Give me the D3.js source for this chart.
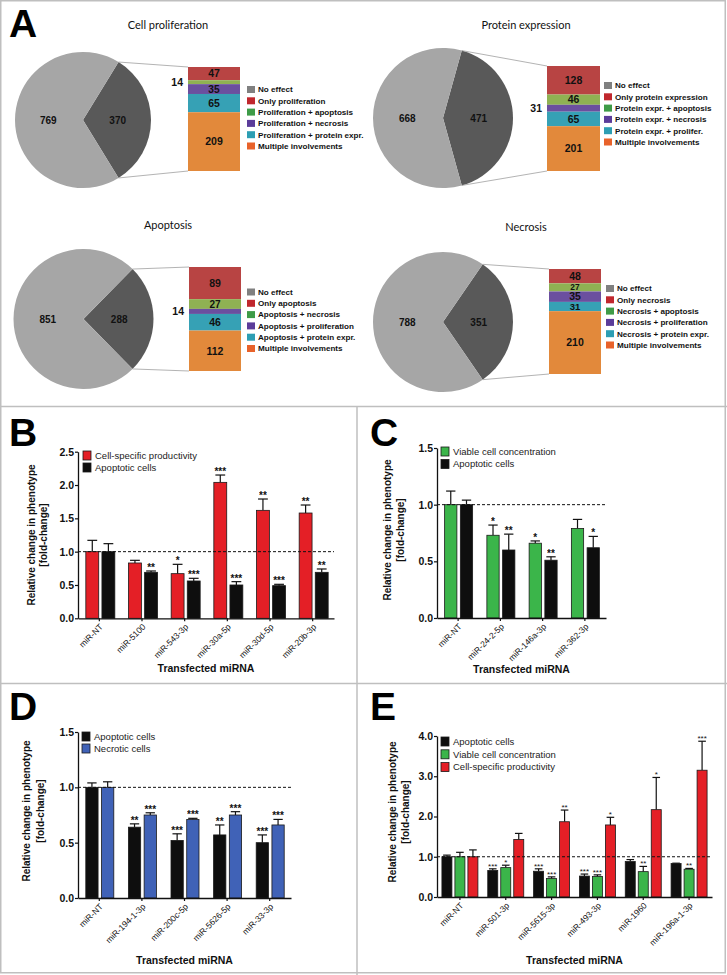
<!DOCTYPE html>
<html><head><meta charset="utf-8">
<script src="https://cdn.jsdelivr.net/npm/d3@7"></script>
<style>
body{margin:0;background:#fff}
svg{display:block;font-family:"Liberation Sans",Arial,sans-serif}
.ptitle{font-family:Lato,"Liberation Sans",sans-serif;font-size:11px;fill:#111}
.plabel{font-size:10px;font-weight:bold;fill:#111}
.slabel{font-weight:bold;fill:#111}
.pleg{font-size:8.1px;font-weight:bold;fill:#111}
.letter{font-size:39px;font-weight:bold;fill:#000}
.tick text{font-size:10.5px;font-weight:bold;fill:#111}
.xlab{font-size:8.5px;fill:#111}
.ytitle{font-size:10px;font-weight:bold;fill:#111}
.xtitle{font-size:10.5px;font-weight:bold;fill:#111}
.bleg{font-size:9.5px;fill:#222}
.star{opacity:0.995}
</style>
</head><body>
<script>
// ---------------- Panel A data ----------------
const pieTitles = ["Cell proliferation","Protein expression","Apoptosis","Necrosis"];
const pieNoEffect = [769, 668, 851, 788];
const pieEffect = [370, 471, 288, 351];
const stackProliferation = [47, 14, 35, 65, 209];
const stackProtein = [128, 46, 31, 65, 201];
const stackApoptosis = [89, 27, 14, 46, 112];
const stackNecrosis = [48, 27, 35, 31, 210];
const legendProliferation = ["No effect","Only proliferation","Proliferation + apoptosis","Proliferation + necrosis","Proliferation + protein expr.","Multiple involvements"];
const legendProtein = ["No effect","Only protein expression","Protein expr. + apoptosis","Protein expr. + necrosis","Protein expr. + prolifer.","Multiple involvements"];
const legendApoptosis = ["No effect","Only apoptosis","Apoptosis + necrosis","Apoptosis + proliferation","Apoptosis + protein expr.","Multiple involvements"];
const legendNecrosis = ["No effect","Only necrosis","Necrosis + apoptosis","Necrosis + proliferation","Necrosis + protein expr.","Multiple involvements"];

// ---------------- Panel B data ----------------
const bCategories = ["miR-NT","miR-5100","miR-543-3p","miR-30a-5p","miR-30d-5p","miR-20b-3p"];
const bProductivity = [1.00, 0.83, 0.67, 2.04, 1.62, 1.58];
const bProductivityErr = [0.17, 0.04, 0.14, 0.11, 0.17, 0.12];
const bProductivityStars = ["", "", "*", "***", "**", "**"];
const bApoptotic = [1.00, 0.69, 0.56, 0.50, 0.49, 0.69];
const bApoptoticErr = [0.12, 0.02, 0.04, 0.05, 0.02, 0.05];
const bApoptoticStars = ["", "**", "***", "***", "***", "**"];
const bTicks = [0, 0.5, 1.0, 1.5, 2.0, 2.5];

// ---------------- Panel C data ----------------
const cCategories = ["miR-NT","miR-24-2-5p","miR-146a-3p","miR-362-3p"];
const cViable = [1.00, 0.73, 0.66, 0.79];
const cViableErr = [0.12, 0.09, 0.02, 0.08];
const cViableStars = ["", "*", "*", ""];
const cApoptotic = [1.00, 0.60, 0.51, 0.62];
const cApoptoticErr = [0.04, 0.14, 0.03, 0.10];
const cApoptoticStars = ["", "**", "**", "*"];
const cTicks = [0, 0.5, 1.0, 1.5];

// ---------------- Panel D data ----------------
const dCategories = ["miR-NT","miR-194-1-3p","miR-200c-5p","miR-5626-5p","miR-33-3p"];
const dApoptotic = [1.00, 0.64, 0.52, 0.57, 0.50];
const dApoptoticErr = [0.04, 0.03, 0.06, 0.09, 0.07];
const dApoptoticStars = ["", "**", "***", "**", "***"];
const dNecrotic = [1.00, 0.75, 0.71, 0.75, 0.66];
const dNecroticErr = [0.05, 0.02, 0.01, 0.03, 0.05];
const dNecroticStars = ["", "***", "***", "***", "***"];
const dTicks = [0, 0.5, 1.0, 1.5];

// ---------------- Panel E data ----------------
const eCategories = ["miR-NT","miR-501-3p","miR-5615-3p","miR-493-3p","miR-1960","miR-196a-1-3p"];
const eApoptotic = [1.00, 0.66, 0.64, 0.52, 0.88, 0.83];
const eApoptoticErr = [0.04, 0.04, 0.06, 0.05, 0.05, 0.01];
const eApoptoticStars = ["", "***", "***", "***", "", ""];
const eViable = [1.00, 0.73, 0.46, 0.51, 0.63, 0.69];
const eViableErr = [0.11, 0.06, 0.04, 0.04, 0.13, 0.02];
const eViableStars = ["", "*", "***", "***", "**", "**"];
const eProductivity = [1.00, 1.43, 1.87, 1.79, 2.17, 3.15];
const eProductivityErr = [0.17, 0.15, 0.29, 0.19, 0.80, 0.72];
const eProductivityStars = ["", "", "**", "*", "*", "***"];
const eTicks = [0, 1.0, 2.0, 3.0, 4.0];

// ---------------- styles ----------------
const pieColors = {effect: "#595959", none: "#a6a6a6"};
const stackColors = ["#b84443", "#8fb153", "#6b4f9f", "#36a1b5", "#e2893b"];
const legendColors = ["#808080", "#c0272d", "#3e9b47", "#5b3c9a", "#2d9eb3", "#e8622a"];
const RED = "#e41f26", BLACK = "#0e0e0e", GREEN = "#3bb54a", BLUE = "#4062b7";

const W = 727, H = 975;
const svg = d3.select("body").append("svg").attr("width", W).attr("height", H);
svg.append("rect").attr("width", W).attr("height", H).attr("fill", "#fff");

// panel borders
const border = "#bfbfbf";
svg.append("rect").attr("x", 0.75).attr("y", 0.75).attr("width", W - 2.5).attr("height", H - 3)
  .attr("fill", "none").attr("stroke", border).attr("stroke-width", 1.5);
[[0, 406.5, W, 406.5], [0, 683.5, W, 683.5], [357, 406.5, 357, H]].forEach(l =>
  svg.append("line").attr("x1", l[0]).attr("y1", l[1]).attr("x2", l[2]).attr("y2", l[3])
    .attr("stroke", border).attr("stroke-width", 1.5));

// panel letters
[["A", 9, 37], ["B", 9, 446], ["C", 370, 446], ["D", 9, 720], ["E", 370, 720]].forEach(d =>
  svg.append("text").attr("class", "letter").attr("x", d[1]).attr("y", d[2]).text(d[0]));

// ---------------- Panel A ----------------
const quads = [
  {title: pieTitles[0], none: pieNoEffect[0], effect: pieEffect[0], stack: stackProliferation, legend: legendProliferation,
   tx: 168, ty: 29, cx: 83, cy: 120, r: 68, bx: 188, bw: 52, by0: 67, by1: 171, lx: 247, ly: 89.5},
  {title: pieTitles[1], none: pieNoEffect[1], effect: pieEffect[1], stack: stackProtein, legend: legendProtein,
   tx: 526, ty: 29, cx: 443, cy: 118, r: 70, bx: 547, bw: 53, by0: 66, by1: 171, lx: 604, ly: 85.5},
  {title: pieTitles[2], none: pieNoEffect[2], effect: pieEffect[2], stack: stackApoptosis, legend: legendApoptosis,
   tx: 168, ty: 229, cx: 83.5, cy: 319, r: 70, bx: 189, bw: 52, by0: 267, by1: 371, lx: 247, ly: 292},
  {title: pieTitles[3], none: pieNoEffect[3], effect: pieEffect[3], stack: stackNecrosis, legend: legendNecrosis,
   tx: 526, ty: 231, cx: 443, cy: 322, r: 70, bx: 549, bw: 52, by0: 269, by1: 374, lx: 606, ly: 288.5}
];

quads.forEach(q => {
  const g = svg.append("g");
  g.append("text").attr("class", "ptitle").attr("x", q.tx).attr("y", q.ty).attr("text-anchor", "middle").text(q.title);
  const half = Math.PI * q.effect / (q.effect + q.none);
  const pie = d3.pie().sort(null).value(d => d.v)
    .startAngle(Math.PI / 2 - half).endAngle(Math.PI / 2 - half + 2 * Math.PI);
  const arcs = pie([{k: "effect", v: q.effect}, {k: "none", v: q.none}]);
  const arc = d3.arc().innerRadius(0).outerRadius(q.r);
  const pg = g.append("g").attr("transform", `translate(${q.cx},${q.cy})`);
  pg.selectAll("path").data(arcs).join("path").attr("d", arc).attr("fill", d => pieColors[d.data.k]);
  pg.selectAll("text").data(arcs).join("text").attr("class", "plabel")
    .attr("x", d => arc.centroid(d)[0] * 1.02).attr("y", d => arc.centroid(d)[1])
    .attr("text-anchor", "middle").attr("dy", "0.35em").text(d => d.data.v);

  // connector lines
  const a0 = Math.PI / 2 - half, a1 = Math.PI / 2 + half;
  const p0 = [q.cx + q.r * Math.sin(a0), q.cy - q.r * Math.cos(a0)];
  const p1 = [q.cx + q.r * Math.sin(a1), q.cy - q.r * Math.cos(a1)];
  g.append("line").attr("x1", p0[0]).attr("y1", p0[1]).attr("x2", q.bx).attr("y2", q.by0).attr("stroke", "#a0a0a0").attr("stroke-width", 0.8);
  g.append("line").attr("x1", p1[0]).attr("y1", p1[1]).attr("x2", q.bx).attr("y2", q.by1).attr("stroke", "#a0a0a0").attr("stroke-width", 0.8);

  // stacked bar
  const total = d3.sum(q.stack);
  const ys = d3.scaleLinear().domain([0, total]).range([q.by0, q.by1]);
  const cum = d3.cumsum(q.stack);
  q.stack.forEach((v, i) => {
    const y0 = ys(cum[i] - v), y1 = ys(cum[i]);
    g.append("rect").attr("x", q.bx).attr("y", y0).attr("width", q.bw).attr("height", y1 - y0).attr("fill", stackColors[i]);
    const h = y1 - y0;
    if (h >= 7.5) {
      g.append("text").attr("class", "slabel").attr("font-size", Math.min(10.5, h + 0.3))
        .attr("x", q.bx + q.bw / 2).attr("y", (y0 + y1) / 2)
        .attr("dy", "0.36em").attr("text-anchor", "middle").text(v);
    } else {
      g.append("text").attr("class", "slabel").attr("font-size", 10.5).attr("x", q.bx - 5).attr("y", (y0 + y1) / 2)
        .attr("dy", "0.36em").attr("text-anchor", "end").text(v);
    }
  });

  // legend
  q.legend.forEach((t, i) => {
    const yy = q.ly + i * 11.3;
    g.append("rect").attr("x", q.lx).attr("y", yy - 3.5).attr("width", 8).attr("height", 7).attr("fill", legendColors[i]);
    g.append("text").attr("class", "pleg").attr("x", q.lx + 11).attr("y", yy).attr("dy", "0.35em").text(t);
  });
});

// ---------------- Bar panels ----------------
function drawBars(cfg) {
  const g = svg.append("g");
  const x = d3.scaleBand().domain(cfg.categories).range([cfg.left, cfg.right]);
  const y = d3.scaleLinear().domain([0, cfg.ymax]).range([cfg.bottom, cfg.top]);
  const xi = d3.scaleBand().domain(cfg.series.map(s => s.name))
    .range([-cfg.innerW / 2, cfg.innerW / 2]).paddingInner(cfg.innerPad);
  const bw = xi.bandwidth();

  // bars
  cfg.series.forEach(s => {
    s.values.forEach((v, i) => {
      const cx = x(cfg.categories[i]) + x.bandwidth() / 2 + xi(s.name) + bw / 2 + (cfg.shift || 0);
      const top = y(v + s.err[i]);
      g.append("line").attr("x1", cx).attr("x2", cx).attr("y1", y(v)).attr("y2", top).attr("stroke", "#111").attr("stroke-width", 1.2);
      g.append("line").attr("x1", cx - bw * 0.38).attr("x2", cx + bw * 0.38).attr("y1", top).attr("y2", top).attr("stroke", "#111").attr("stroke-width", 1.2);
      g.append("rect").attr("x", cx - bw / 2).attr("y", y(v)).attr("width", bw).attr("height", y(0) - y(v))
        .attr("fill", s.color).attr("stroke", "#1a1a1a").attr("stroke-width", 0.8);
      if (s.stars[i]) {
        g.append("text").attr("class", "star").attr("x", cx).attr("y", top - cfg.starGap).attr("text-anchor", "middle")
          .attr("font-size", cfg.starSize).attr("font-weight", cfg.starWeight).attr("fill", "#111").text(s.stars[i]);
      }
    });
  });

  // dashed reference line at 1.0
  g.append("line").attr("x1", cfg.left).attr("x2", cfg.right).attr("y1", y(1)).attr("y2", y(1))
    .attr("stroke", "#111").attr("stroke-width", 1).attr("stroke-dasharray", "3,2");

  // axes
  g.append("g").attr("transform", `translate(${cfg.left},0)`)
    .call(d3.axisLeft(y).tickValues(cfg.ticks).tickFormat(d3.format(".1f")).tickSize(3).tickSizeOuter(0).tickPadding(1))
    .call(a => a.select(".domain").attr("stroke", "#111").attr("stroke-width", 1.3))
    .call(a => a.selectAll(".tick line").attr("stroke", "#111").attr("stroke-width", 1.2))
    .call(a => a.selectAll(".tick text").attr("font-family", null).attr("font-size", null));
  g.append("g").attr("transform", `translate(0,${cfg.bottom})`)
    .call(d3.axisBottom(x).tickSize(3).tickSizeOuter(0).tickFormat(""))
    .call(a => a.select(".domain").attr("stroke", "#111").attr("stroke-width", 1.3))
    .call(a => a.selectAll(".tick line").attr("stroke", "#111").attr("stroke-width", 1.2));

  // x tick labels (rotated)
  cfg.categories.forEach(c => {
    const cx = x(c) + x.bandwidth() / 2 + 2;
    g.append("text").attr("class", "xlab").attr("text-anchor", "end")
      .attr("transform", `translate(${cx},${cfg.bottom + 7}) rotate(-45)`).attr("dy", "0.35em").text(c);
  });

  // axis titles
  g.append("text").attr("class", "ytitle").attr("text-anchor", "middle")
    .attr("transform", `translate(${cfg.yt1},${cfg.ytc}) rotate(-90)`).attr("dy", "0.35em").text("Relative change in phenotype");
  g.append("text").attr("class", "ytitle").attr("text-anchor", "middle")
    .attr("transform", `translate(${cfg.yt2},${cfg.ytc}) rotate(-90)`).attr("dy", "0.35em").text("[fold-change]");
  g.append("text").attr("class", "xtitle").attr("text-anchor", "middle")
    .attr("x", (cfg.left + cfg.right) / 2).attr("y", cfg.xty).attr("dy", "0.35em").text("Transfected miRNA");

  // legend
  cfg.series.forEach((s, i) => {
    const yy = cfg.legY + i * cfg.legStep;
    g.append("rect").attr("x", cfg.legX).attr("y", yy).attr("width", 8).attr("height", 9)
      .attr("fill", s.color).attr("stroke", "#1a1a1a").attr("stroke-width", 0.8);
    g.append("text").attr("class", "bleg").attr("x", cfg.legX + 12).attr("y", yy + 4.5).attr("dy", "0.35em").text(s.name);
  });
}

drawBars({
  categories: bCategories, left: 78, right: 334, top: 451.7, bottom: 618.3, ymax: 2.5, ticks: bTicks,
  innerW: 29, innerPad: 0.2, shift: 1, starSize: 10, starWeight: "bold", starGap: 0,
  series: [
    {name: "Cell-specific productivity", values: bProductivity, err: bProductivityErr, stars: bProductivityStars, color: RED},
    {name: "Apoptotic cells", values: bApoptotic, err: bApoptoticErr, stars: bApoptoticStars, color: BLACK}
  ],
  yt1: 31, yt2: 43, ytc: 535, xty: 668, legX: 83, legY: 451, legStep: 12
});

drawBars({
  categories: cCategories, left: 437, right: 606, top: 448, bottom: 618, ymax: 1.5, ticks: cTicks,
  innerW: 28, innerPad: 0.22, shift: 0.5, starSize: 10, starWeight: "bold", starGap: 0,
  series: [
    {name: "Viable cell concentration", values: cViable, err: cViableErr, stars: cViableStars, color: GREEN},
    {name: "Apoptotic cells", values: cApoptotic, err: cApoptoticErr, stars: cApoptoticStars, color: BLACK}
  ],
  yt1: 387, yt2: 400, ytc: 530, xty: 669, legX: 441, legY: 447, legStep: 12.5
});

drawBars({
  categories: dCategories, left: 78, right: 291, top: 732, bottom: 898, ymax: 1.5, ticks: dTicks,
  innerW: 28, innerPad: 0.22, shift: 0.5, starSize: 10, starWeight: "bold", starGap: 0,
  series: [
    {name: "Apoptotic cells", values: dApoptotic, err: dApoptoticErr, stars: dApoptoticStars, color: BLACK},
    {name: "Necrotic cells", values: dNecrotic, err: dNecroticErr, stars: dNecroticStars, color: BLUE}
  ],
  yt1: 26, yt2: 40, ytc: 811, xty: 960, legX: 82, legY: 732, legStep: 12
});

drawBars({
  categories: eCategories, left: 437, right: 712, top: 736, bottom: 897, ymax: 4.0, ticks: eTicks,
  innerW: 36, innerPad: 0.23, shift: 0, starSize: 8, starWeight: "normal", starGap: 0,
  series: [
    {name: "Apoptotic cells", values: eApoptotic, err: eApoptoticErr, stars: eApoptoticStars, color: BLACK},
    {name: "Viable cell concentration", values: eViable, err: eViableErr, stars: eViableStars, color: GREEN},
    {name: "Cell-specific productivity", values: eProductivity, err: eProductivityErr, stars: eProductivityStars, color: RED}
  ],
  yt1: 392, yt2: 405, ytc: 812, xty: 960, legX: 441, legY: 737, legStep: 12.8
});
</script>
</body></html>
